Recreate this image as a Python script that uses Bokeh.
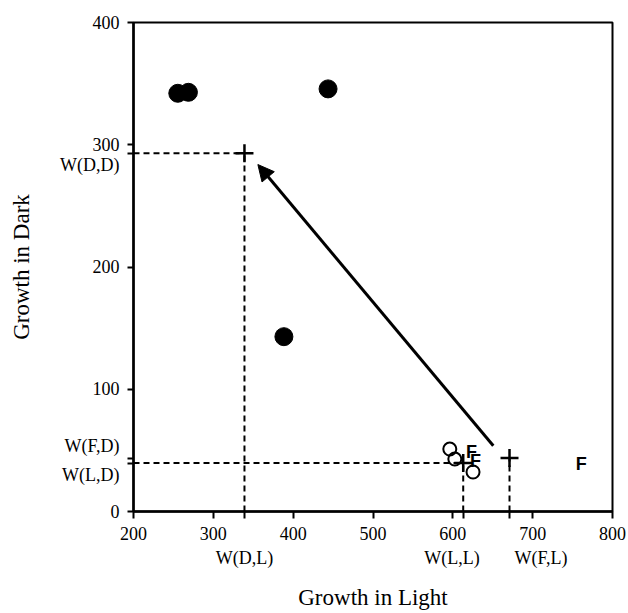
from bokeh.plotting import figure
from bokeh.models import FixedTicker, Arrow, NormalHead, Range1d
from bokeh.core.properties import value
from bokeh.embed import file_html
from bokeh.resources import INLINE

# ---- data ----
x_ticks = [200, 300, 400, 500, 600, 700, 800]
y_ticks = [0, 100, 200, 300, 400]

filled_x = [255.5, 268.8, 443.7, 388.4]
filled_y = [342.1, 342.9, 345.7, 143.0]

open_x = [596.2, 602.5, 625.3]
open_y = [51.1, 42.9, 32.3]

f_x = [623.5, 628.5, 760.9]
f_y = [48.5, 41.5, 38.8]
f_text = ["F", "F", "F"]

# W(genotype, environment) reference values
w_light = {"D": 339.0, "L": 613.0, "F": 671.0}
w_dark = {"D": 293.0, "L": 39.6, "F": 43.7}
w_light_labels = {"D": "W(D,L)", "L": "W(L,L)", "F": "W(F,L)"}
w_dark_labels = {"D": "W(D,D)", "L": "W(L,D)", "F": "W(F,D)"}

arrow_start = (650.7, 53.8)
arrow_end = (355.8, 283.8)

SERIF = "Liberation Serif"
NB = "\u00a0"

p = figure(width=626, height=613, output_backend="svg", toolbar_location=None,
           x_range=Range1d(200, 800), y_range=Range1d(0, 400),
           min_border_left=133, min_border_right=14, min_border_top=22,
           min_border_bottom=102, background_fill_color="white",
           border_fill_color="white")
p.grid.visible = False
p.outline_line_color = "black"
p.outline_line_width = 2

# axes: numeric ticks plus the W reference ticks (labels on a second line)
xt = x_ticks + [w_light[k] for k in ("D", "L", "F")]
yt = y_ticks + [w_dark[k] for k in ("D", "F", "L")]
p.xaxis.ticker = FixedTicker(ticks=xt)
p.yaxis.ticker = FixedTicker(ticks=yt)
p.xaxis.major_label_overrides = {
    w_light["D"]: "\n" + w_light_labels["D"],
    w_light["L"]: "\n" + w_light_labels["L"] + NB * 5,
    w_light["F"]: "\n" + NB * 14 + w_light_labels["F"],
}
p.yaxis.major_label_overrides = {
    w_dark["D"]: "\n" + w_dark_labels["D"],
    w_dark["F"]: w_dark_labels["F"] + "\n" + NB,
    w_dark["L"]: NB + "\n" + w_dark_labels["L"],
}
for ax in (p.xaxis[0], p.yaxis[0]):
    ax.axis_line_width = 2.5
    ax.axis_line_color = "black"
    ax.major_tick_line_width = 2
    ax.major_tick_line_color = "black"
    ax.major_tick_in = 0
    ax.minor_tick_line_color = None
    ax.major_label_text_font = SERIF
    ax.major_label_text_font_size = "18px"
    ax.major_label_text_color = "black"
    ax.axis_label_text_font = SERIF
    ax.axis_label_text_font_size = "23px"
    ax.axis_label_text_font_style = "normal"
    ax.axis_label_text_color = "black"
    ax.axis_label_text_line_height = 0.9
p.xaxis.major_tick_out = 7
p.yaxis.major_tick_out = 6
p.xaxis.major_label_standoff = 5
p.yaxis.major_label_standoff = 8
p.xaxis.axis_label = "Growth in Light"
p.yaxis.axis_label = "Growth in Dark"
p.xaxis.axis_label_standoff = 14
p.yaxis.axis_label_standoff = 23

# dashed guide lines
gx0, gy0, gx1, gy1 = [], [], [], []
for k in ("D", "L"):
    gx0.append(200); gy0.append(w_dark[k]); gx1.append(w_light[k]); gy1.append(w_dark[k])
for k in ("D", "L", "F"):
    gx0.append(w_light[k]); gy0.append(0); gx1.append(w_light[k]); gy1.append(w_dark[k])
p.segment(x0=gx0, y0=gy0, x1=gx1, y1=gy1, line_color="black", line_width=2,
          line_dash="6 4")

# crosses
p.scatter(x=[w_light[k] for k in ("D", "L", "F")], y=[w_dark[k] for k in ("D", "L", "F")],
          marker="cross", size=18, line_color="black", line_width=2.5)

# points
p.scatter(x=filled_x, y=filled_y, marker="circle", size=18, fill_color="black",
          line_color="black")
p.scatter(x=open_x, y=open_y, marker="circle", size=13, fill_color=None,
          line_color="black", line_width=2)
p.text(x=f_x, y=f_y, text=f_text, text_font=value("Liberation Sans"),
       text_font_size="18px", text_font_style="bold", text_align="center",
       text_baseline="middle", text_color="black")

# arrow
p.add_layout(Arrow(x_start=arrow_start[0], y_start=arrow_start[1],
                   x_end=arrow_end[0], y_end=arrow_end[1],
                   line_width=3, line_color="black",
                   end=NormalHead(size=16, fill_color="black", line_color="black")))

open("out.html", "w").write(file_html(p, INLINE))
